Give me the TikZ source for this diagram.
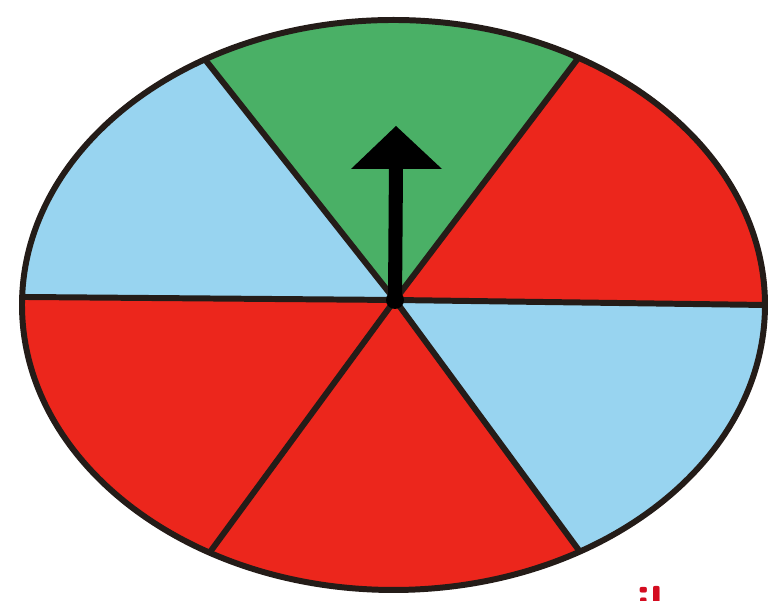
\documentclass[tikz,border=0pt]{standalone}
\usetikzlibrary{calc}
\definecolor{RedClr}{RGB}{236,38,28}
\definecolor{BlueClr}{RGB}{152,212,240}
\definecolor{GreenClr}{RGB}{74,176,102}
\definecolor{LineClr}{RGB}{36,28,24}
\definecolor{TextClr}{RGB}{212,12,32}

\begin{document}
\begin{tikzpicture}[x=1cm,y=1cm]
\tikzset{spoke/.style={LineClr,line width=1.7pt}}
\useasboundingbox (0,0) rectangle (7.7,6.01);

\coordinate (O) at (3.935,2.96);
\coordinate (H) at (3.95,3.01);

\coordinate (R) at (7.65,2.96);
\coordinate (UR) at (5.73,5.36);
\coordinate (UL) at (2.07,5.39);
\coordinate (L) at (0.25,3.04);
\coordinate (LL) at (2.13,0.53);
\coordinate (LR) at (5.75,0.56);

\begin{scope}
\clip (O) ellipse [x radius=3.715, y radius=2.85];
\fill[RedClr] (H) -- ($(H)!3!(R)$) -- ($(H)!3!(UR)$) -- cycle;
\fill[GreenClr] (H) -- ($(H)!3!(UR)$) -- ($(H)!3!(UL)$) -- cycle;
\fill[BlueClr] (H) -- ($(H)!3!(UL)$) -- ($(H)!3!(L)$) -- cycle;
\fill[RedClr] (H) -- ($(H)!3!(L)$) -- ($(H)!3!(LL)$) -- cycle;
\fill[RedClr] (H) -- ($(H)!3!(LL)$) -- ($(H)!3!(LR)$) -- cycle;
\fill[BlueClr] (H) -- ($(H)!3!(LR)$) -- ($(H)!3!(R)$) -- cycle;

\foreach \p in {R,UR,UL,L,LL,LR}
  \draw[spoke] (H) -- ($(H)!1.2!(\p)$);
\end{scope}
\draw[spoke] (O) ellipse [x radius=3.715, y radius=2.85];

% pointer
\coordinate (top) at (3.96,4.36);
\draw[black,line width=4pt] (H) -- (top);
\fill[black] (3.51,4.32) -- (3.96,4.75) -- (4.42,4.32) -- cycle;
\fill[black] (H) circle (0.09);

\node[TextClr,font=\sffamily\bfseries\fontsize{14}{14}\selectfont,anchor=base] (tail) at (6.5,-0.2) {il};
\end{tikzpicture}
\end{document}
